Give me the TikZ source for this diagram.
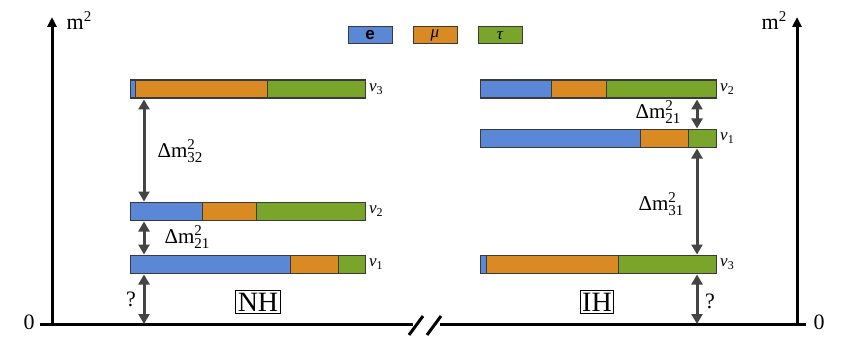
\documentclass[tikz,border=0pt]{standalone}
\usepackage{fontspec}
\setmainfont{Liberation Serif}
\newfontfamily\lsans{Liberation Sans}
\usetikzlibrary{arrows.meta}
\definecolor{cE}{HTML}{5B88D6}
\definecolor{cM}{HTML}{D98A22}
\definecolor{cT}{HTML}{79A52A}
\definecolor{edgec}{HTML}{3A3A3A}
\definecolor{agray}{HTML}{444444}
\newcommand{\nbar}[6]{%
  \filldraw[seg,fill=cE] (#3,#2) rectangle (#4,#2+18);
  \filldraw[seg,fill=cM] (#4,#2) rectangle (#5,#2+18);
  \filldraw[seg,fill=cT] (#5,#2) rectangle (#6,#2+18);
  \pgfmathsetmacro\bw{#6-#3}
  \node[barbox,minimum width=\bw pt,anchor=north west] (#1) at (#3,#2) {};}
\newcommand{\smallfs}{\fontsize{15}{15}\selectfont}
\newcommand{\dmlab}[1]{Δm\rlap{\raisebox{8pt}{\smallfs 2}}\raisebox{-4.5pt}{\smallfs #1}}
\newcommand{\nulab}[1]{{\itshape ν}\raisebox{-3pt}{\fontsize{12}{12}\selectfont #1}}
\newcommand{\msq}{m\raisebox{8pt}{\smallfs 2}}
\begin{document}
\begin{tikzpicture}[x=1pt,y=-1pt,
  seg/.style={draw=edgec,line width=1pt},
  barbox/.style={draw=edgec,line width=1pt,minimum height=18pt,inner sep=0pt},
  dm/.style={{Triangle[length=10pt,width=11pt]}-{Triangle[length=10pt,width=11pt]},line width=3pt,draw=agray,shorten <=0.5pt,shorten >=0.5pt},
  axis/.style={line width=3pt,draw=black},
  nulabel/.style={right,inner sep=3pt,font=\fontsize{17}{17}\selectfont},
  dmlabel/.style={font=\fontsize{21}{21}\selectfont,inner sep=0pt},
  big/.style={font=\fontsize{22}{22}\selectfont,inner sep=0pt},
  hbox/.style={draw,line width=1pt,inner sep=2pt,font=\fontsize{28}{28}\selectfont},
  legbox/.style={draw=edgec,line width=1pt,minimum width=44pt,minimum height=17pt,inner sep=0pt,font=\fontsize{17}{17}\selectfont}]
\useasboundingbox (0,0) rectangle (855,345);
% axes
\coordinate (lb) at (52,324.5);
\coordinate (lt) at (52,17);
\coordinate (rb) at (797,324.5);
\coordinate (rt) at (797,17);
\coordinate (l0) at (40,324.5);
\coordinate (r0) at (806,324.5);
\coordinate (bkl) at (413,324.5);
\coordinate (bkr) at (440,324.5);
\draw[axis,-{Triangle[length=10pt,width=9pt]}] (lb) -- (lt);
\draw[axis,-{Triangle[length=10pt,width=9pt]}] (rb) -- (rt);
\draw[axis] (l0) -- (bkl);
\draw[axis] (bkr) -- (r0);
\draw[line width=3pt] (409,335) -- (423,316);
\draw[line width=3pt] (427,335) -- (441,316);
\node[big,anchor=center] (zl) at (29,322) {0};
\node[big,anchor=center] (zr) at (819,322) {0};
\node[big,anchor=center] (ml) at (79,21) {\msq};
\node[big,anchor=center] (mr) at (774,21) {\msq};
% legend
\node[legbox,fill=cE] (le) at (370,35.5) {\lsans\bfseries e};
\node[legbox,fill=cM] (lm) at (435,35.5) {\itshape μ};
\node[legbox,fill=cT] (lt2) at (500,35.5) {\itshape τ};
% NH bars
\nbar{nh3}{80}{130}{135}{267}{365}
\nbar{nh2}{202}{130}{202}{256}{365}
\nbar{nh1}{255}{130}{290}{338}{365}
\node[nulabel] at (nh3.east) {\nulab{3}};
\node[nulabel] at (nh2.east) {\nulab{2}};
\node[nulabel] at (nh1.east) {\nulab{1}};
% IH bars
\nbar{ih2}{80}{480}{551}{606}{716}
\nbar{ih1}{129}{480}{640}{688}{716}
\nbar{ih3}{255}{480}{486}{618}{716}
\node[nulabel] at (ih2.east) {\nulab{2}};
\node[nulabel] at (ih1.east) {\nulab{1}};
\node[nulabel] at (ih3.east) {\nulab{3}};
% NH arrows
\coordinate (nhg) at (144,324.5);
\draw[dm] (nhg |- nh3.south) -- (nhg |- nh2.north);
\draw[dm] (nhg |- nh2.south) -- (nhg |- nh1.north);
\draw[dm] (nhg |- nh1.south) -- (nhg);
\node[dmlabel] at (180,151) {\dmlab{32}};
\node[dmlabel] at (187,237) {\dmlab{21}};
\node[big] at (131,299) {?};
\node[hbox] (nh) at (258,302) {NH};
% IH arrows
\coordinate (ihg) at (697,324.5);
\draw[dm] (ihg |- ih2.south) -- (ihg |- ih1.north);
\draw[dm] (ihg |- ih1.south) -- (ihg |- ih3.north);
\draw[dm] (ihg |- ih3.south) -- (ihg);
\node[dmlabel] at (658,112) {\dmlab{21}};
\node[dmlabel] at (661,204) {\dmlab{31}};
\node[big] at (710,301) {?};
\node[hbox] (ih) at (597,302) {IH};
\end{tikzpicture}
\end{document}
